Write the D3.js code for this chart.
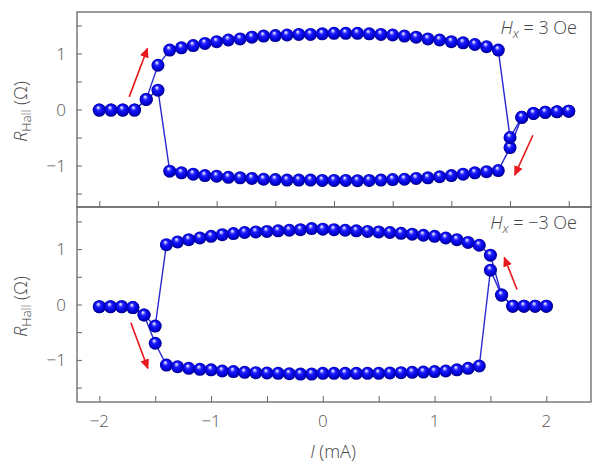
<!DOCTYPE html>
<html>
<head>
<meta charset="utf-8">
<script src="https://cdn.jsdelivr.net/npm/d3@7"></script>
<style>
  html, body { margin: 0; padding: 0; background: #fff; }
  svg { display: block; }
</style>
</head>
<body>
<svg id="chart" width="610" height="469"></svg>
<script>
// ---------- data ----------
const currents = [-2.0,-1.9,-1.8,-1.7,-1.6,-1.5,-1.4,-1.3,-1.2,-1.1,-1.0,-0.9,-0.8,-0.7,-0.6,-0.5,-0.4,-0.3,-0.2,-0.1,
  0.0,0.1,0.2,0.3,0.4,0.5,0.6,0.7,0.8,0.9,1.0,1.1,1.2,1.3,1.4,1.5,1.6,1.7,1.8,1.9,2.0];

// Top panel (Hx = 3 Oe)
const topForwardR = [-0.01,-0.01,-0.01,-0.01,0.18,0.79,
  1.06,1.10,1.14,1.18,1.21,1.24,1.26,1.29,1.31,1.32,1.33,1.34,1.34,1.35,
  1.36,1.36,1.36,1.35,1.34,1.33,1.31,1.29,1.26,1.24,1.21,1.19,1.16,1.12,1.06,
  -0.50,-0.14,-0.07,-0.05,-0.04,-0.03];
const topBackwardR = [-0.01,-0.01,-0.01,-0.01,0.18,0.345,
  -1.10,-1.13,-1.155,-1.18,-1.19,-1.21,-1.22,-1.23,-1.245,-1.25,-1.26,-1.26,-1.26,-1.265,
  -1.265,-1.265,-1.27,-1.265,-1.26,-1.25,-1.245,-1.23,-1.22,-1.20,-1.18,-1.155,-1.13,-1.11,-1.09,
  -0.68,-0.14,-0.07,-0.05,-0.04,-0.03];

// Bottom panel (Hx = -3 Oe)
const bottomForwardR = [-0.04,-0.04,-0.04,-0.055,-0.19,-0.70,
  -1.094,-1.124,-1.153,-1.171,-1.18,-1.20,-1.21,-1.225,-1.23,-1.237,-1.243,-1.25,-1.256,-1.256,
  -1.243,-1.243,-1.243,-1.243,-1.243,-1.243,-1.237,-1.23,-1.225,-1.22,-1.21,-1.20,-1.18,-1.153,-1.11,
  0.62,0.17,-0.03,-0.03,-0.03,-0.03];
const bottomBackwardR = [-0.04,-0.04,-0.04,-0.055,-0.19,-0.39,
  1.08,1.13,1.17,1.20,1.23,1.26,1.28,1.30,1.31,1.32,1.33,1.34,1.35,1.37,
  1.36,1.35,1.34,1.33,1.32,1.31,1.30,1.285,1.27,1.25,1.23,1.20,1.17,1.12,1.07,
  0.89,0.17,-0.03,-0.03,-0.03,-0.03];

// tick values
const xTicks = [-2,-1.5,-1,-0.5,0,0.5,1,1.5,2];
const xTickLabels = [-2,-1,0,1,2];
const yTicks = [-1.5,-1,-0.5,0,0.5,1,1.5];
const yTickLabels = [-1,0,1];

// annotation arrows [x0, y0, x1, y1] in data units
const topArrows = [[-1.745,0.225,-1.59,1.09],[1.695,-0.46,1.54,-1.17]];
const bottomArrows = [[-1.718,-0.33,-1.566,-1.153],[1.738,0.27,1.624,0.85]];

const topLabel = "3 Oe";
const bottomLabel = "\u22123 Oe";

// ---------- drawing ----------
const svg = d3.select("#chart");
const L = 77, R = 591;
const fontTick = "'Open Sans', 'DejaVu Sans', sans-serif";
const axisColor = "#666";
const textColor = "#555";

const defs = svg.append("defs");
const grad = defs.append("radialGradient").attr("id","ball")
  .attr("cx","50%").attr("cy","50%").attr("r","55%").attr("fx","40%").attr("fy","28%");
[["0%","#ffffff"],["12%","#b8b8ff"],["35%","#1c1cff"],["75%","#0000d0"],["100%","#000068"]]
  .forEach(([o,c]) => grad.append("stop").attr("offset",o).attr("stop-color",c));
defs.append("marker").attr("id","arrowhead").attr("viewBox","0 0 10 10")
  .attr("refX",9).attr("refY",5).attr("markerWidth",10).attr("markerHeight",10)
  .attr("markerUnits","userSpaceOnUse").attr("orient","auto")
  .append("path").attr("d","M0,0.5 L10,5 L0,9.5 Z").attr("fill","#e8181c");

function panel(cfg) {
  const x = d3.scaleLinear().domain(cfg.xDomain).range([L, R]);
  const y = d3.scaleLinear().domain(cfg.yDomain).range([cfg.bottom, cfg.top]);
  const g = svg.append("g");

  // left axis with inward ticks
  const yAxis = d3.axisRight(y).tickValues(yTicks).tickSize(5).tickFormat("");
  const ya = g.append("g").attr("transform", `translate(${L},0)`).call(yAxis);
  ya.select(".domain").remove();
  ya.selectAll("line").attr("stroke", axisColor).attr("stroke-width", 1);
  g.selectAll(".ylab").data(yTickLabels).enter().append("text")
    .attr("x", L - 11).attr("y", d => y(d)).attr("dy","0.36em")
    .attr("text-anchor","end").attr("font-family",fontTick).attr("font-size",17).attr("font-weight",300)
    .attr("fill",textColor).text(d => d < 0 ? "\u2212" + Math.abs(d) : d);

  // bottom axis with inward ticks
  const xAxis = d3.axisTop(x).tickValues(xTicks).tickSize(6).tickFormat("");
  const xa = g.append("g").attr("transform", `translate(0,${cfg.bottom})`).call(xAxis);
  xa.select(".domain").remove();
  xa.selectAll("line").attr("stroke", axisColor).attr("stroke-width", 1);
  if (cfg.xLabels) {
    g.selectAll(".xlab").data(xTickLabels).enter().append("text")
      .attr("x", d => x(d)).attr("y", cfg.bottom + 25)
      .attr("text-anchor","middle").attr("font-family",fontTick).attr("font-size",17).attr("font-weight",300)
      .attr("fill",textColor).text(d => d < 0 ? "\u2212" + Math.abs(d) : d);
  }

  // frame
  g.append("rect").attr("x", L).attr("y", cfg.top).attr("width", R - L).attr("height", cfg.bottom - cfg.top)
    .attr("fill","none").attr("stroke", axisColor).attr("stroke-width", 1.3);

  // lines
  const line = d3.line().x((d,i) => x(currents[i])).y(d => y(d));
  [cfg.forward, cfg.backward].forEach(s => {
    g.append("path").datum(s).attr("d", line).attr("fill","none")
      .attr("stroke","#2a2ad0").attr("stroke-width",1.4);
  });

  // balls
  [cfg.backward, cfg.forward].forEach(s => {
    g.append("g").selectAll("circle").data(s).enter().append("circle")
      .attr("cx", (d,i) => x(currents[i])).attr("cy", d => y(d)).attr("r", 6.5)
      .attr("fill","url(#ball)");
  });

  // arrows
  g.selectAll(".arr").data(cfg.arrows).enter().append("line")
    .attr("x1", d => x(d[0])).attr("y1", d => y(d[1]))
    .attr("x2", d => x(d[2])).attr("y2", d => y(d[3]))
    .attr("stroke","#e8181c").attr("stroke-width",1.6).attr("marker-end","url(#arrowhead)");

  // Hx label
  const t = g.append("text").attr("x", 577).attr("y", cfg.top + 22).attr("text-anchor","end")
    .attr("font-family",fontTick).attr("font-size",18).attr("font-weight",300).attr("fill","#444");
  t.append("tspan").attr("font-style","italic").text("H");
  t.append("tspan").attr("font-style","italic").attr("font-size",13).attr("dy",4).text("x");
  t.append("tspan").attr("dy",-4).text(" = " + cfg.label);

  // y label
  const yl = g.append("text").attr("transform", `translate(27,${(cfg.top + cfg.bottom)/2 + 2}) rotate(-90)`)
    .attr("text-anchor","middle").attr("font-family",fontTick).attr("font-size",18).attr("font-weight",300).attr("fill","#444");
  yl.append("tspan").attr("font-style","italic").text("R");
  yl.append("tspan").attr("font-size",13).attr("dy",4).text("Hall");
  yl.append("tspan").attr("dy",-4).text(" (\u03A9)");
}

panel({ xDomain: [-2.19, 2.19], yDomain: [-1.74, 1.74], top: 12, bottom: 207,
  forward: topForwardR, backward: topBackwardR, arrows: topArrows, label: topLabel, xLabels: false });
panel({ xDomain: [-2.2, 2.4], yDomain: [-1.76, 1.76], top: 207, bottom: 402,
  forward: bottomForwardR, backward: bottomBackwardR, arrows: bottomArrows, label: bottomLabel, xLabels: true });

// x axis title
const xt = svg.append("text").attr("x", 333).attr("y", 458).attr("text-anchor","middle")
  .attr("font-family",fontTick).attr("font-size",18).attr("font-weight",300).attr("fill","#444");
xt.append("tspan").attr("font-style","italic").text("I");
xt.append("tspan").text(" (mA)");
</script>
</body>
</html>
